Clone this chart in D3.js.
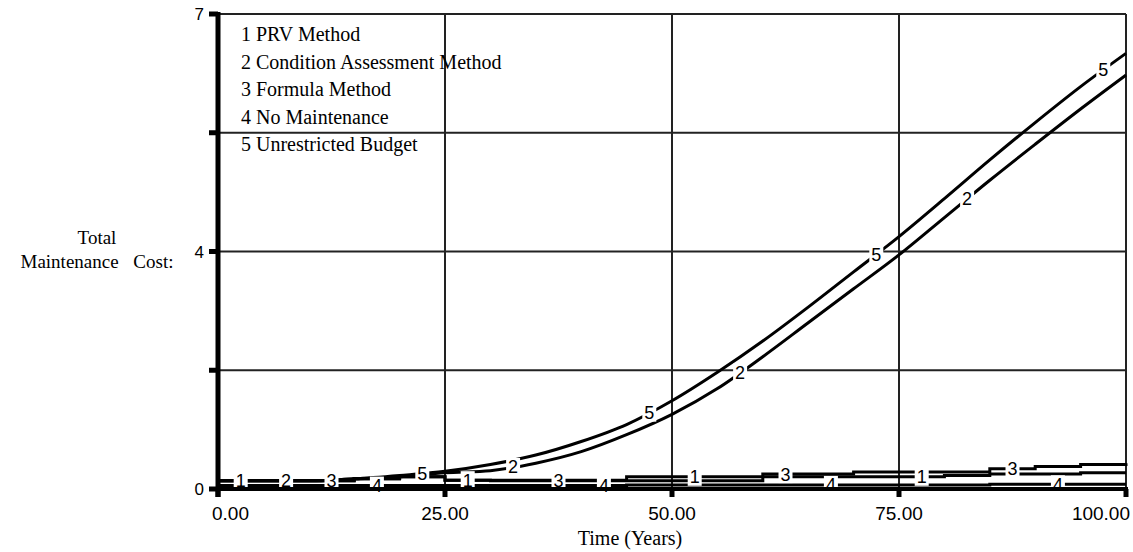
<!DOCTYPE html>
<html>
<head>
<meta charset="utf-8">
<script src="https://cdn.jsdelivr.net/npm/d3@7"></script>
<style>
  body { margin: 0; background: #fff; }
  svg { display: block; }
</style>
</head>
<body>
<svg width="1133" height="552"></svg>
<script>
// time points (years)
var years = [0, 5, 10, 15, 20, 25, 30, 35, 40, 45, 50, 55, 60, 65, 70, 75, 80, 85, 90, 95, 100];

// series values
var prvMethod     = [0.12, 0.12, 0.12, 0.15, 0.18, 0.13, 0.13, 0.13, 0.13, 0.18, 0.18, 0.18, 0.18, 0.18, 0.18, 0.18, 0.20, 0.22, 0.22, 0.24, 0.24];
var conditionMeth = [0.12, 0.12, 0.12, 0.15, 0.18, 0.24, 0.27, 0.38, 0.55, 0.80, 1.10, 1.48, 1.95, 2.45, 2.95, 3.45, 4.00, 4.55, 5.08, 5.60, 6.10];
var formulaMethod = [0.12, 0.12, 0.12, 0.15, 0.18, 0.13, 0.12, 0.12, 0.12, 0.12, 0.12, 0.12, 0.22, 0.22, 0.25, 0.25, 0.25, 0.30, 0.33, 0.36, 0.38];
var noMaintenance = [0.05, 0.05, 0.05, 0.05, 0.05, 0.05, 0.05, 0.05, 0.05, 0.06, 0.06, 0.06, 0.06, 0.06, 0.06, 0.06, 0.06, 0.07, 0.07, 0.07, 0.07];
var unrestricted  = [0.12, 0.12, 0.12, 0.15, 0.20, 0.26, 0.36, 0.50, 0.70, 0.95, 1.30, 1.72, 2.18, 2.68, 3.20, 3.72, 4.28, 4.85, 5.40, 5.93, 6.42];

var seriesNames = ['PRV Method', 'Condition Assessment Method', 'Formula Method', 'No Maintenance', 'Unrestricted Budget'];
var seriesValues = [prvMethod, conditionMeth, formulaMethod, noMaintenance, unrestricted];
var seriesStepped = [true, false, true, true, false];

var xTicks = [0, 25, 50, 75, 100];
var xTickLabels = ['0.00', '25.00', '50.00', '75.00', '100.00'];
var yGrid = [0, 1.75, 3.5, 5.25, 7];
var yLabelValues = [0, 3.5, 7];
var yLabelText = ['0', '4', '7'];

var svg = d3.select('svg');

var scaleX = d3.scaleLinear().domain([0, 100]).range([218, 1126]);
var scaleY = d3.scaleLinear().domain([0, 7]).range([489, 14]);

var sans = 'Liberation Sans, Arial, sans-serif';
var serif = 'Liberation Serif, Times New Roman, serif';

// grid
svg.selectAll('.vgrid')
    .data(xTicks)
    .enter()
    .append('line')
    .attr('x1', function(d){ return scaleX(d); })
    .attr('x2', function(d){ return scaleX(d); })
    .attr('y1', scaleY(7))
    .attr('y2', scaleY(0))
    .attr('stroke', '#222')
    .attr('stroke-width', 2);

svg.selectAll('.hgrid')
    .data(yGrid)
    .enter()
    .append('line')
    .attr('x1', scaleX(0))
    .attr('x2', scaleX(100))
    .attr('y1', function(d){ return scaleY(d); })
    .attr('y2', function(d){ return scaleY(d); })
    .attr('stroke', '#222')
    .attr('stroke-width', 2);

// legend
svg.selectAll('.legend')
    .data(seriesNames)
    .enter()
    .append('text')
    .attr('x', 241)
    .attr('y', function(d, i){ return 41 + i * 27.5; })
    .attr('font-family', serif)
    .attr('font-size', 20)
    .text(function(d, i){ return (i + 1) + ' ' + d; });

// lines
seriesValues.forEach(function(vals, i){
    var line = d3.line()
        .x(function(d, j){ return scaleX(years[j]); })
        .y(function(d){ return scaleY(d); })
        .curve(seriesStepped[i] ? d3.curveStepAfter : d3.curveMonotoneX);
    svg.append('path')
        .datum(vals)
        .attr('d', line)
        .attr('fill', 'none')
        .attr('stroke', '#000')
        .attr('stroke-width', 3);
});

// value of a series at time t (as drawn)
function valueAt(i, t){
    var vals = seriesValues[i];
    var j = d3.bisectRight(years, t) - 1;
    j = Math.max(0, Math.min(j, years.length - 2));
    if (seriesStepped[i]) return vals[j];
    var f = (t - years[j]) / (years[j + 1] - years[j]);
    return vals[j] + f * (vals[j + 1] - vals[j]);
}

// line number labels
var labelTimes = d3.range(2.5, 100, 5);
var labels = svg.selectAll('.lab')
    .data(labelTimes)
    .enter()
    .append('g')
    .attr('transform', function(t, k){
        return 'translate(' + scaleX(t) + ',' + scaleY(valueAt(k % 5, t)) + ')';
    });
labels.append('rect')
    .attr('x', -7)
    .attr('y', -9)
    .attr('width', 14)
    .attr('height', 18)
    .attr('fill', '#fff');
labels.append('text')
    .attr('text-anchor', 'middle')
    .attr('y', 6.5)
    .attr('font-family', sans)
    .attr('font-size', 18)
    .text(function(t, k){ return (k % 5) + 1; });

// axes
svg.append('line')
    .attr('x1', scaleX(0)).attr('x2', scaleX(0))
    .attr('y1', scaleY(7) - 2).attr('y2', scaleY(0) + 8)
    .attr('stroke', '#000').attr('stroke-width', 5);
svg.append('line')
    .attr('x1', scaleX(0)).attr('x2', scaleX(100) + 2)
    .attr('y1', scaleY(0)).attr('y2', scaleY(0))
    .attr('stroke', '#000').attr('stroke-width', 4);

svg.selectAll('.ytick')
    .data(yGrid)
    .enter()
    .append('line')
    .attr('x1', scaleX(0) - 9)
    .attr('x2', scaleX(0))
    .attr('y1', function(d){ return scaleY(d); })
    .attr('y2', function(d){ return scaleY(d); })
    .attr('stroke', '#000')
    .attr('stroke-width', 5);

svg.selectAll('.xtick')
    .data(xTicks)
    .enter()
    .append('line')
    .attr('x1', function(d){ return scaleX(d); })
    .attr('x2', function(d){ return scaleX(d); })
    .attr('y1', scaleY(0))
    .attr('y2', scaleY(0) + 8)
    .attr('stroke', '#000')
    .attr('stroke-width', 5);

svg.selectAll('.xlab')
    .data(xTicks)
    .enter()
    .append('text')
    .attr('x', function(d, i){
        if (i === 0) return scaleX(d) - 6;
        if (i === xTicks.length - 1) return scaleX(d) + 4;
        return scaleX(d);
    })
    .attr('y', 520)
    .attr('text-anchor', function(d, i){
        if (i === 0) return 'start';
        if (i === xTicks.length - 1) return 'end';
        return 'middle';
    })
    .attr('font-family', sans)
    .attr('font-size', 19)
    .text(function(d, i){ return xTickLabels[i]; });

svg.selectAll('.ylab')
    .data(yLabelValues)
    .enter()
    .append('text')
    .attr('x', 204)
    .attr('y', function(d){ return scaleY(d) + 6; })
    .attr('text-anchor', 'end')
    .attr('font-family', sans)
    .attr('font-size', 17)
    .text(function(d, i){ return yLabelText[i]; });

// axis titles
svg.append('text')
    .attr('x', 97)
    .attr('y', 244)
    .attr('text-anchor', 'middle')
    .attr('font-family', serif)
    .attr('font-size', 19)
    .text('Total');
svg.append('text')
    .attr('x', 97)
    .attr('y', 268)
    .attr('text-anchor', 'middle')
    .attr('font-family', serif)
    .attr('font-size', 19)
    .style('word-spacing', '10px')
    .text('Maintenance Cost:');

svg.append('text')
    .attr('x', 630)
    .attr('y', 545)
    .attr('text-anchor', 'middle')
    .attr('font-family', serif)
    .attr('font-size', 20)
    .text('Time (Years)');
</script>
</body>
</html>
